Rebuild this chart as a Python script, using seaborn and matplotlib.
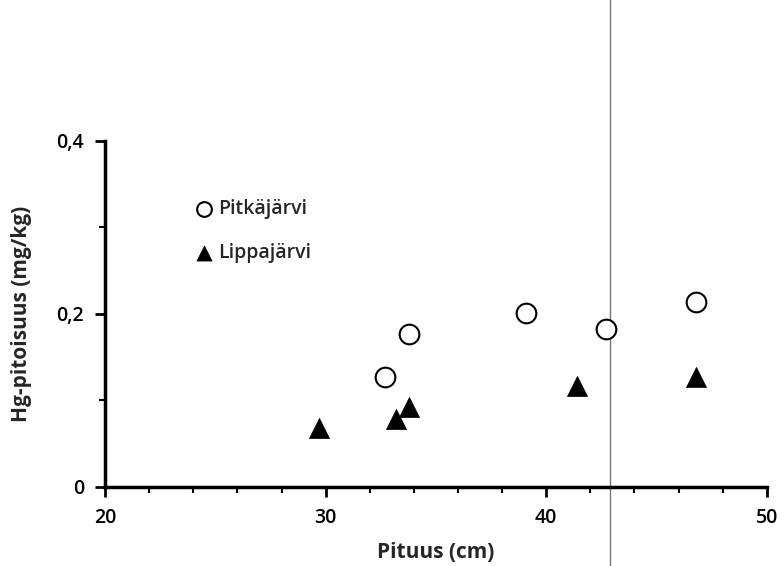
import matplotlib
matplotlib.use("Agg")
import matplotlib.pyplot as plt
import seaborn as sns
import pandas as pd
from matplotlib.ticker import MultipleLocator, FuncFormatter

# Data
pitka_x = [32.7, 33.8, 39.1, 42.7, 46.8]
pitka_y = [0.127, 0.177, 0.201, 0.183, 0.214]
lippa_x = [29.7, 33.2, 33.8, 41.4, 46.8]
lippa_y = [0.068, 0.079, 0.092, 0.117, 0.127]
series_names = ["Pitkäjärvi", "Lippajärvi"]
x_ticks = [20, 30, 40, 50]
y_ticks = [0, 0.2, 0.4]
line_x = 42.9

sns.set_theme(style="white")
plt.rcParams['font.family'] = ['Open Sans', 'DejaVu Sans']

df_p = pd.DataFrame({"x": pitka_x, "y": pitka_y})
df_l = pd.DataFrame({"x": lippa_x, "y": lippa_y})

fig = plt.figure(figsize=(7.84, 5.66), dpi=100)
ax = fig.add_axes([0.134, 0.1396, 0.844, 0.6114])

sns.scatterplot(data=df_p, x="x", y="y", ax=ax, marker="o", s=200,
                facecolor="white", edgecolor="black", linewidth=1.5,
                label=series_names[0], zorder=3)
sns.scatterplot(data=df_l, x="x", y="y", ax=ax, marker="^", s=210,
                color="black", edgecolor="black", linewidth=0.5,
                label=series_names[1], zorder=3)

ax.set_xlim(20, 50)
ax.set_ylim(0, 0.4)
ax.set_xticks(x_ticks)
ax.set_yticks(y_ticks)
ax.xaxis.set_minor_locator(MultipleLocator(2))
ax.yaxis.set_minor_locator(MultipleLocator(0.1))
ax.yaxis.set_major_formatter(FuncFormatter(lambda v, p: ("%g" % v).replace(".", ",")))

for s in ["top", "right"]:
    ax.spines[s].set_visible(False)
for s in ["left", "bottom"]:
    ax.spines[s].set_linewidth(2.5)
    ax.spines[s].set_color("black")

ax.tick_params(axis="both", which="major", direction="out", length=7, width=2,
               labelsize=14, color="black", labelcolor="black", pad=8,
               bottom=True, left=True)
ax.tick_params(axis="both", which="minor", direction="out", length=4, width=1.5,
               color="black", bottom=True, left=True)
for lbl in ax.get_xticklabels() + ax.get_yticklabels():
    lbl.set_fontweight("semibold")

ax.set_xlabel("Pituus (cm)", fontsize=15, fontweight="bold", labelpad=10)
ax.set_ylabel("Hg-pitoisuus (mg/kg)", fontsize=15, fontweight="bold", labelpad=18)

ax.axvline(line_x, ymin=-0.23, ymax=1.41, color="#777777", linewidth=1,
           clip_on=False, zorder=1)

leg = ax.legend(loc="upper left", bbox_to_anchor=(0.106, 0.883), frameon=False,
                fontsize=14, handletextpad=0.1, labelspacing=1.25,
                handlelength=1.2, markerscale=0.75)
for t in leg.get_texts():
    t.set_fontweight("semibold")

fig.savefig("out.png", dpi=100, facecolor="white")
